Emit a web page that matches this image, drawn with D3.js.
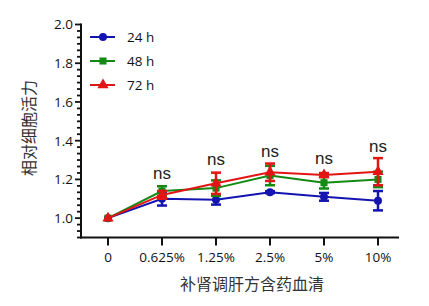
<!DOCTYPE html>
<html>
<head>
<meta charset="utf-8">
<script src="https://cdn.jsdelivr.net/npm/d3@7"></script>
<style>
  body { margin: 0; background: #fff; }
  svg { display: block; }
</style>
</head>
<body>
<div id="chart"></div>
<script>
// ---- Data ----
const categories = ["0", "0.625%", "1.25%", "2.5%", "5%", "10%"];
const seriesNames = ["24 h", "48 h", "72 h"];
const means24 = [1.00, 1.10, 1.095, 1.134, 1.11, 1.09];
const sd24    = [0.00, 0.035, 0.025, 0.005, 0.02, 0.05];
const means48 = [1.00, 1.14, 1.155, 1.22, 1.183, 1.20];
const sd48    = [0.00, 0.025, 0.04, 0.05, 0.03, 0.04];
const means72 = [1.00, 1.12, 1.18, 1.237, 1.223, 1.24];
const sd72    = [0.00, 0.02, 0.055, 0.045, 0.01, 0.07];
const nsLabels = ["", "ns", "ns", "ns", "ns", "ns"];
const yTicks = [1.0, 1.2, 1.4, 1.6, 1.8, 2.0];

const colors = ["#1414b0", "#138a13", "#e31414"];
const shapes = [d3.symbolCircle, d3.symbolSquare, d3.symbolTriangle];
const means = [means24, means48, means72];
const sds = [sd24, sd48, sd72];

const W = 429, H = 306;
const svg = d3.select("#chart").append("svg").attr("width", W).attr("height", H);

const x = d3.scalePoint().domain(categories).range([108, 378]);
const y = d3.scaleLinear().domain([0.9, 2.0]).range([237.5, 24.5]);

// ---- Axes ----
const yAxis = svg.append("g").attr("transform", "translate(81,0)");
const minor = d3.range(0.9, 2.0001, 0.2 / 6).filter(v => !yTicks.some(t => Math.abs(t - v) < 1e-6));
yAxis.selectAll("line.minor").data(minor).join("line")
  .attr("x1", -4).attr("x2", 0)
  .attr("y1", d => y(d)).attr("y2", d => y(d))
  .attr("stroke", "#111").attr("stroke-width", 1.8);
yAxis.selectAll("line.major").data(yTicks).join("line")
  .attr("x1", -6).attr("x2", 0)
  .attr("y1", d => y(d)).attr("y2", d => y(d))
  .attr("stroke", "#111").attr("stroke-width", 1.8);
yAxis.selectAll("text").data(yTicks).join("text")
  .attr("x", -8).attr("y", d => y(d)).attr("dy", "0.36em")
  .attr("text-anchor", "end")
  .style("font", "13.5px 'Open Sans'").style("fill", "#111")
  .text(d => d.toFixed(1));
yAxis.append("line").attr("x1", 0).attr("x2", 0)
  .attr("y1", y(2.0) - 1).attr("y2", y(0.9) + 1)
  .attr("stroke", "#111").attr("stroke-width", 2);

const xAxis = svg.append("g").attr("transform", `translate(0,${y(0.9)})`);
xAxis.append("line").attr("x1", 80).attr("x2", 399).attr("y1", 0).attr("y2", 0)
  .attr("stroke", "#111").attr("stroke-width", 2);
xAxis.selectAll("line.tick").data(categories).join("line")
  .attr("x1", d => x(d)).attr("x2", d => x(d))
  .attr("y1", 0).attr("y2", 8)
  .attr("stroke", "#111").attr("stroke-width", 2);
xAxis.selectAll("text").data(categories).join("text")
  .attr("x", d => x(d)).attr("y", 20).attr("dy", "0.36em")
  .attr("text-anchor", "middle")
  .style("font", "13.5px 'Open Sans'").style("fill", "#111")
  .text(d => d);

// ---- Titles ----
svg.append("text")
  .attr("transform", "translate(28,128) rotate(-90)")
  .attr("text-anchor", "middle").attr("dominant-baseline", "central")
  .style("font", "16px 'Noto Sans CJK SC'").style("fill", "#333")
  .text("相对细胞活力");
svg.append("text")
  .attr("x", 252).attr("y", 283)
  .attr("text-anchor", "middle").attr("dominant-baseline", "central")
  .style("font", "16px 'Noto Sans CJK SC'").style("fill", "#333")
  .text("补肾调肝方含药血清");

// ---- Series ----
const line = d3.line().x((d, i) => x(categories[i])).y(d => y(d));
seriesNames.forEach((name, s) => {
  const g = svg.append("g");
  const c = colors[s];
  g.append("path").datum(means[s]).attr("d", line)
    .attr("fill", "none").attr("stroke", c).attr("stroke-width", 2);
  const eb = g.selectAll("g.err").data(means[s]).join("g");
  eb.append("line")
    .attr("x1", (d, i) => x(categories[i])).attr("x2", (d, i) => x(categories[i]))
    .attr("y1", (d, i) => y(d - sds[s][i])).attr("y2", (d, i) => y(d + sds[s][i]))
    .attr("stroke", c).attr("stroke-width", 2.5);
  [-1, 1].forEach(k => {
    eb.append("line")
      .attr("x1", (d, i) => x(categories[i]) - 5).attr("x2", (d, i) => x(categories[i]) + 5)
      .attr("y1", (d, i) => y(d + k * sds[s][i])).attr("y2", (d, i) => y(d + k * sds[s][i]))
      .attr("stroke", c).attr("stroke-width", 2.5)
      .attr("display", (d, i) => sds[s][i] > 0 ? null : "none");
  });
  g.selectAll("path.pt").data(means[s]).join("path")
    .attr("transform", (d, i) => `translate(${x(categories[i])},${y(d)})`)
    .attr("d", d3.symbol().type(shapes[s]).size(s === 2 ? 55 : 50))
    .attr("fill", c);
});

// ---- ns labels ----
const nsY = [0, 174, 160, 152, 159, 147];
svg.selectAll("text.ns").data(nsLabels).join("text")
  .attr("class", "ns")
  .attr("x", (d, i) => x(categories[i])).attr("y", (d, i) => nsY[i] + 5)
  .attr("text-anchor", "middle")
  .style("font", "17px 'Liberation Sans'").style("fill", "#222")
  .text(d => d);

// ---- Legend ----
const leg = svg.append("g");
seriesNames.forEach((name, s) => {
  const ly = 37 + s * 24;
  leg.append("line").attr("x1", 90).attr("x2", 115).attr("y1", ly).attr("y2", ly)
    .attr("stroke", colors[s]).attr("stroke-width", 2);
  leg.append("path").attr("transform", `translate(103,${ly})`)
    .attr("d", d3.symbol().type(shapes[s]).size(s === 2 ? 55 : 50))
    .attr("fill", colors[s]);
  leg.append("text").attr("x", 127).attr("y", ly).attr("dy", "0.36em")
    .style("font", "13.5px 'Open Sans'").style("fill", "#111")
    .text(name);
});
</script>
</body>
</html>
